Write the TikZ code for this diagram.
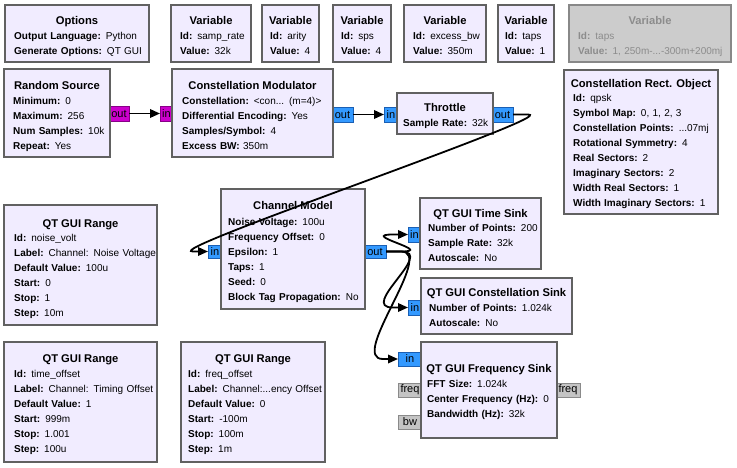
\documentclass[tikz,border=0pt]{standalone}
\usepackage{fontspec}
\setmainfont{Liberation Sans}
\usetikzlibrary{arrows.meta,calc}
\definecolor{blkfill}{HTML}{F1ECFF}
\definecolor{blkborder}{HTML}{616161}
\definecolor{cplx}{HTML}{3399FF}
\definecolor{cplxb}{HTML}{1A5FB4}
\definecolor{byt}{HTML}{CC00CC}
\definecolor{bytb}{HTML}{880088}
\definecolor{msg}{HTML}{C4C4C4}
\definecolor{msgb}{HTML}{8A8A8A}
\definecolor{disfill}{HTML}{CCCCCC}
\definecolor{disborder}{HTML}{888888}
\definecolor{distext}{HTML}{8C8C8C}
\tikzset{
  blk/.style={draw=blkborder, fill=blkfill, line width=2pt, inner sep=0pt, outer sep=0pt, anchor=north west},
  ttl/.style={font=\fontsize{11.2}{13}\selectfont\bfseries, inner sep=0pt, anchor=base},
  prm/.style={font=\fontsize{10}{15}\selectfont, inner sep=0pt, anchor=base west, text width=200pt, align=left},
  port/.style={line width=1pt, inner sep=0pt, outer sep=0pt, anchor=north west, font=\fontsize{11}{12}\selectfont},
  cport/.style={port, fill=cplx, draw=cplxb},
  bport/.style={port, fill=byt, draw=bytb},
  mport/.style={port, fill=msg, draw=msgb},
  conn/.style={line width=1.8pt, -{Triangle[length=10pt,width=8.5pt]}},
}
\begin{document}
\begin{tikzpicture}[x=1pt,y=-1pt]
\useasboundingbox (0,0) rectangle (737,467);
\fill[white] (0,0) rectangle (737,467);

% ---------- ports (drawn below blocks) ----------
\node[bport, minimum width=20pt, minimum height=15pt] (rsout) at (109,106) {out};
\node[bport, minimum width=13pt, minimum height=15pt] (cmin) at (160,106) {in};
\node[cport, minimum width=21pt, minimum height=15pt] (cmout) at (332,107) {out};
\node[cport, minimum width=14pt, minimum height=15pt] (thin) at (384,107) {in};
\node[cport, minimum width=21pt, minimum height=15pt] (thout) at (492,107) {out};
\node[cport, minimum width=14pt, minimum height=13pt] (chin) at (208,245) {in};
\node[cport, minimum width=22pt, minimum height=13pt] (chout) at (364,245) {out};
\node[cport, minimum width=13pt, minimum height=15pt] (tsin) at (408,227) {in};
\node[cport, minimum width=14pt, minimum height=15pt] (csin) at (408,300) {in};
\node[cport, minimum width=24pt, minimum height=14pt] (fsin) at (398,352) {in};
\node[mport, minimum width=24pt, minimum height=14pt] (fsfreq) at (398,383) {freq};
\node[mport, minimum width=24pt, minimum height=14pt] (fsbw) at (398,415) {bw};
\node[mport, minimum width=24pt, minimum height=14pt] (fsfreqo) at (556,383) {freq};

% ---------- top row ----------
\node[blk, minimum width=144pt, minimum height=57pt] (opt) at (5,5) {};
\node[ttl] at (77,24) {Options};
\node[prm] at (14,39) {\textbf{Output Language:} Python\\\textbf{Generate Options:} QT GUI};

\node[blk, minimum width=80pt, minimum height=57pt] (vsr) at (171,5) {};
\node[ttl] at (211,24) {Variable};
\node[prm] at (180,39) {\textbf{Id:} samp\_rate\\\textbf{Value:} 32k};

\node[blk, minimum width=57pt, minimum height=57pt] (var) at (262,5) {};
\node[ttl] at (290.5,24) {Variable};
\node[prm] at (270,39) {\textbf{Id:} arity\\\textbf{Value:} 4};

\node[blk, minimum width=58pt, minimum height=57pt] (vsps) at (333,5) {};
\node[ttl] at (362,24) {Variable};
\node[prm] at (341,39) {\textbf{Id:} sps\\\textbf{Value:} 4};

\node[blk, minimum width=82pt, minimum height=57pt] (vebw) at (404,5) {};
\node[ttl] at (445,24) {Variable};
\node[prm] at (413,39) {\textbf{Id:} excess\_bw\\\textbf{Value:} 350m};

\node[blk, minimum width=56pt, minimum height=57pt] (vtaps) at (498,5) {};
\node[ttl] at (526,24) {Variable};
\node[prm] at (505,39) {\textbf{Id:} taps\\\textbf{Value:} 1};

\node[blk, draw=disborder, fill=disfill, minimum width=162pt, minimum height=57pt] (vdis) at (569,5) {};
\node[ttl, text=distext] at (650,24) {Variable};
\node[prm, text=distext] at (578,39) {\textbf{Id:} taps\\\textbf{Value:} 1, 250m-...-300m+200mj};

% ---------- second row ----------
\node[blk, minimum width=106pt, minimum height=88pt] (rs) at (4,69) {};
\node[ttl] at (57,89) {Random Source};
\node[prm] at (13,104) {\textbf{Minimum:} 0\\\textbf{Maximum:} 256\\\textbf{Num Samples:} 10k\\\textbf{Repeat:} Yes};

\node[blk, minimum width=161pt, minimum height=88pt] (cm) at (172,69) {};
\node[ttl] at (252.5,89) {Constellation Modulator};
\node[prm] at (182,104) {\textbf{Constellation:} <con... (m=4)>\\\textbf{Differential Encoding:} Yes\\\textbf{Samples/Symbol:} 4\\\textbf{Excess BW:} 350m};

\node[blk, minimum width=96pt, minimum height=41pt] (th) at (397,93) {};
\node[ttl] at (445,111) {Throttle};
\node[prm] at (403,126) {\textbf{Sample Rate:} 32k};

\node[blk, minimum width=154pt, minimum height=144pt] (cro) at (564,70) {};
\node[ttl] at (641,87) {Constellation Rect. Object};
\node[prm] at (573,101) {\textbf{Id:} qpsk\\\textbf{Symbol Map:} 0, 1, 2, 3\\\textbf{Constellation Points:} ...07mj\\\textbf{Rotational Symmetry:} 4\\\textbf{Real Sectors:} 2\\\textbf{Imaginary Sectors:} 2\\\textbf{Width Real Sectors:} 1\\\textbf{Width Imaginary Sectors:} 1};

% ---------- middle ----------
\node[blk, minimum width=144pt, minimum height=120pt] (ch) at (221,189) {};
\node[ttl] at (293,209) {Channel Model};
\node[prm] at (228,225) {\textbf{Noise Voltage:} 100u\\\textbf{Frequency Offset:} 0\\\textbf{Epsilon:} 1\\\textbf{Taps:} 1\\\textbf{Seed:} 0\\\textbf{Block Tag Propagation:} No};

\node[blk, minimum width=153pt, minimum height=120pt] (rnoise) at (4,205) {};
\node[ttl] at (80.5,227) {QT GUI Range};
\node[prm] at (14,241) {\textbf{Id:} noise\_volt\\\textbf{Label:} Channel: Noise Voltage\\\textbf{Default Value:} 100u\\\textbf{Start:} 0\\\textbf{Stop:} 1\\\textbf{Step:} 10m};

\node[blk, minimum width=121pt, minimum height=71pt] (ts) at (420,198) {};
\node[ttl] at (480.5,217) {QT GUI Time Sink};
\node[prm] at (428,231) {\textbf{Number of Points:} 200\\\textbf{Sample Rate:} 32k\\\textbf{Autoscale:} No};

\node[blk, minimum width=151pt, minimum height=56pt] (cs) at (421,278) {};
\node[ttl] at (496.5,296) {QT GUI Constellation Sink};
\node[prm] at (429,311) {\textbf{Number of Points:} 1.024k\\\textbf{Autoscale:} No};

\node[blk, minimum width=136pt, minimum height=96pt] (fs) at (421,342) {};
\node[ttl] at (489,372) {QT GUI Frequency Sink};
\node[prm] at (427,387) {\textbf{FFT Size:} 1.024k\\\textbf{Center Frequency (Hz):} 0\\\textbf{Bandwidth (Hz):} 32k};

% ---------- bottom row ----------
\node[blk, minimum width=153pt, minimum height=120pt] (rtime) at (4,342) {};
\node[ttl] at (80.5,362) {QT GUI Range};
\node[prm] at (14,377) {\textbf{Id:} time\_offset\\\textbf{Label:} Channel: Timing Offset\\\textbf{Default Value:} 1\\\textbf{Start:} 999m\\\textbf{Stop:} 1.001\\\textbf{Step:} 100u};

\node[blk, minimum width=144pt, minimum height=120pt] (rfreq) at (181,342) {};
\node[ttl] at (253,362) {QT GUI Range};
\node[prm] at (188,377) {\textbf{Id:} freq\_offset\\\textbf{Label:} Channel:...ency Offset\\\textbf{Default Value:} 0\\\textbf{Start:} -100m\\\textbf{Stop:} 100m\\\textbf{Step:} 1m};

% ---------- connections ----------
\draw[conn] (rsout.east) -- (cmin.west);
\draw[conn] (cmout.east) -- (thin.west);
\draw[conn] (thout.east) -- ++(15,0) .. controls ($(thout.east)+(50,0)$) and ($(chin.west)+(-50,0)$) .. ($(chin.west)+(-15,0)$) -- (chin.west);
\draw[conn] (chout.east) -- ++(15,0) .. controls ($(chout.east)+(50,0)$) and ($(tsin.west)+(-50,0)$) .. ($(tsin.west)+(-15,0)$) -- (tsin.west);
\draw[conn] (chout.east) -- ++(15,0) .. controls ($(chout.east)+(50,0)$) and ($(csin.west)+(-50,0)$) .. ($(csin.west)+(-15,0)$) -- (csin.west);
\draw[conn] (chout.east) -- ++(15,0) .. controls ($(chout.east)+(50,0)$) and ($(fsin.west)+(-50,0)$) .. ($(fsin.west)+(-15,0)$) -- (fsin.west);
\end{tikzpicture}
\end{document}
